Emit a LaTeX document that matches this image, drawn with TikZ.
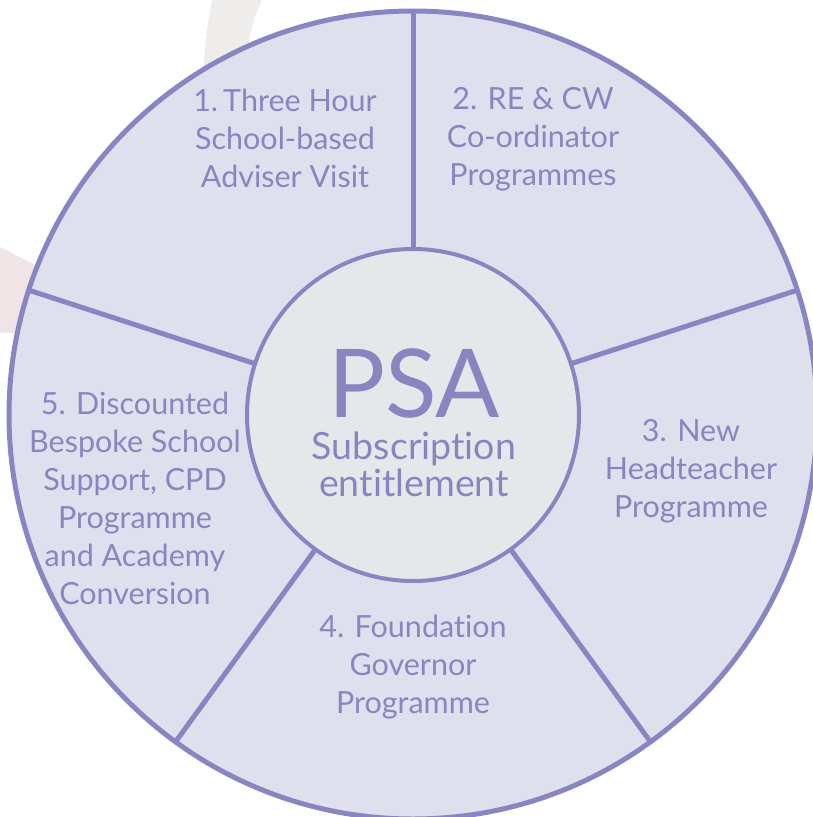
\documentclass[tikz,border=0pt]{standalone}
\usepackage{fontspec}
\setmainfont{Lato}[Ligatures={NoCommon}]
\definecolor{ringcol}{HTML}{8886C2}
\definecolor{segcol}{HTML}{E0DFEE}
\definecolor{hubcol}{HTML}{E6E7EA}
\definecolor{txtcol}{HTML}{8A85C0}
\definecolor{swooshcol}{HTML}{EEEDEB}
\definecolor{pinkcol}{HTML}{F0E4E7}
\tikzset{
  wheel/.style={circle, draw=ringcol, fill=segcol, line width=5pt, minimum size=808pt, inner sep=0pt, outer sep=0pt},
  hub/.style={circle, draw=ringcol, fill=hubcol, line width=4pt, minimum size=332pt, inner sep=0pt, outer sep=0pt},
  divider/.style={draw=ringcol, line width=5pt},
  lbl/.style={text=txtcol, align=center, inner sep=0pt, font=\fontsize{30.5}{38}\selectfont},
  bigtxt/.style={text=txtcol, inner sep=0pt, font=\fontsize{95}{95}\selectfont},
  subtxt/.style={text=txtcol, align=center, inner sep=0pt, font=\fontsize{37.5}{37}\selectfont}
}
\begin{document}
\begin{tikzpicture}[x=1pt,y=-1pt]
\useasboundingbox (0,0) rectangle (813,817);
\clip (0,0) rectangle (813,817);
% faint background shapes
\fill[swooshcol] (212,0) .. controls (207,25) and (204,50) .. (203,85) -- (245,85) .. controls (246,50) and (250,25) .. (262,0) -- cycle;
\fill[pinkcol] (0,247) -- (45,270) -- (45,334) -- (0,333) -- cycle;
% wheel
\coordinate (c) at (413,415);
\node[wheel] (outer) at (c) {};
\node[hub] (inner) at (c) {};
\foreach \a in {90,18,-54,-126,162}{
  \draw[divider] (inner.\a) -- (outer.\a);
}
% centre text
\node[bigtxt] (psa) at (414,383) {PSA};
\node[subtxt] (sub) at (414,464) {Subscription\\entitlement};
% segment labels
\node[lbl] (s1) at (285,138) {1.\,Three Hour\\School-based\\Adviser Visit};
\node[lbl] (s2) at (533,139) {2. RE \& CW\\Co-ordinator\\Programmes};
\node[lbl] (s3) at (691,471) {3. New\\Headteacher\\Programme};
\node[lbl] (s4) at (413,667) {4. Foundation\\Governor\\Programme};
\node[lbl] (s5) at (135,498) {5. Discounted\\Bespoke School\\Support, CPD\\Programme\\and Academy\\Conversion};
\end{tikzpicture}
\end{document}
